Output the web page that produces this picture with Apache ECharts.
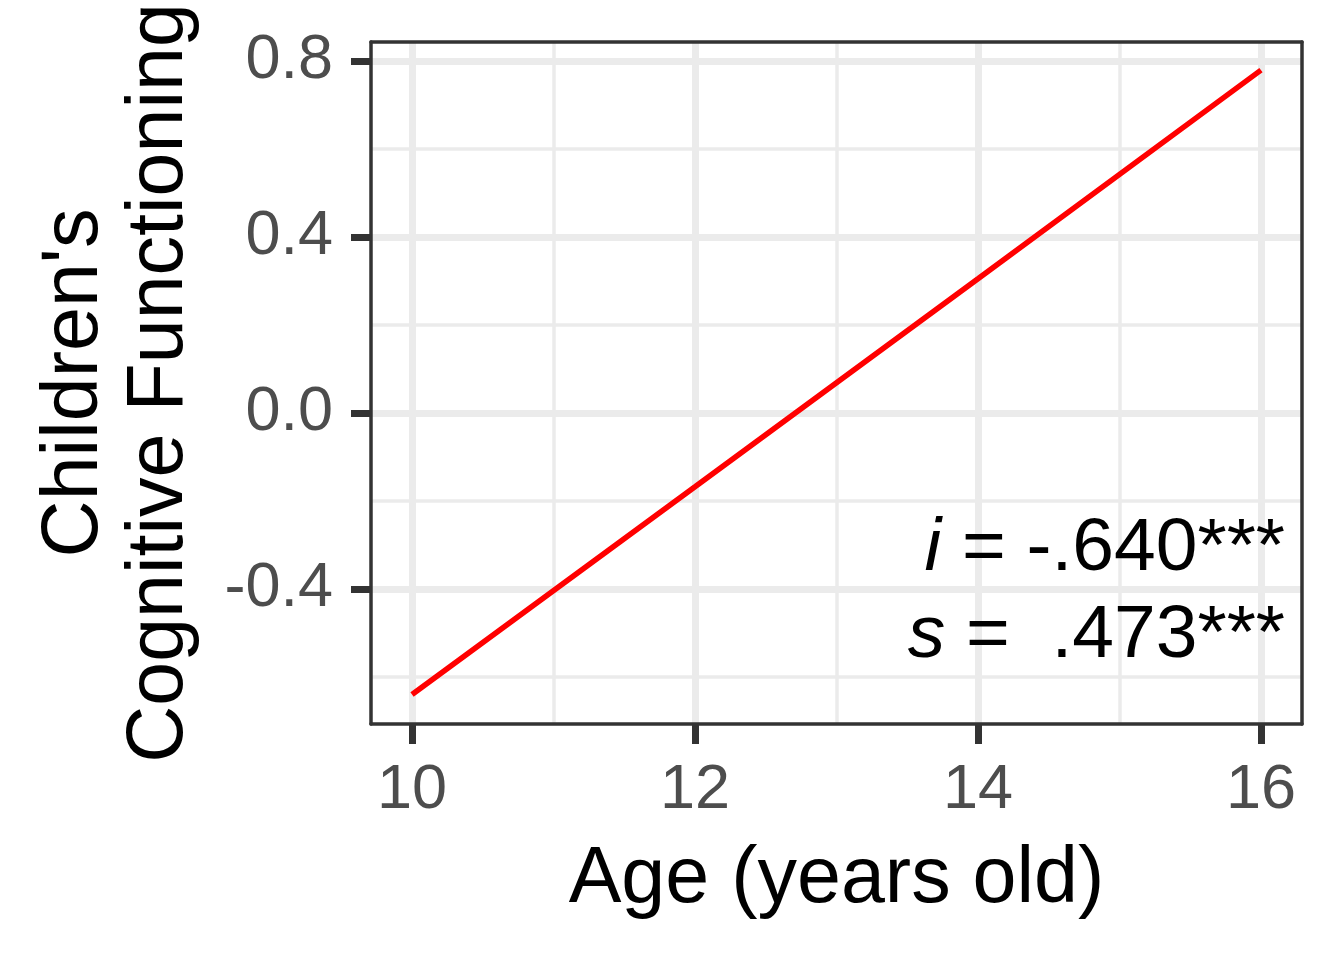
<!DOCTYPE html>
<html>
<head>
<meta charset="utf-8">
<script src="https://cdn.jsdelivr.net/npm/echarts@6/dist/echarts.min.js"></script>
<style>html,body{margin:0;padding:0;background:#fff;}#chart{width:1344px;height:960px;}</style>
</head>
<body>
<div id="chart"></div>
<script>
// ---- data ----
var ages = [10, 12, 14, 16];
var cognition = [-0.640, -0.168, 0.305, 0.779];
var xTicks = [10, 12, 14, 16];
var xMinor = [11, 13, 15];
var yTicks = [-0.4, 0.0, 0.4, 0.8];
var yMinor = [-0.6, -0.2, 0.2, 0.6];
var annotX = [16.17, 16.17];
var annotY = [-0.31, -0.507];
var annotText = ['{it|i} = -.640***', '{it|s} =  .473***'];

var FONT = 'Liberation Sans, Arial, Helvetica, sans-serif';
var chart = echarts.init(document.getElementById('chart'));

function gridLines(axisKey, vals) {
  return vals.map(function (v) { var o = {}; o[axisKey] = v; return o; });
}

var option = {
  animation: false,
  backgroundColor: '#ffffff',
  grid: { left: 371, right: 42, top: 42, bottom: 236, show: false },
  xAxis: [{
    type: 'value', min: 9.71, max: 16.29, position: 'bottom', z: 10,
    name: 'Age (years old)', nameLocation: 'middle', nameGap: 117,
    nameTextStyle: { fontFamily: FONT, fontSize: 79, color: '#000' },
    axisLine: { show: true, onZero: false, lineStyle: { color: '#333333', width: 3.5 } },
    axisTick: { show: true, customValues: xTicks, length: 20, lineStyle: { color: '#333333', width: 7 } },
    axisLabel: { show: true, customValues: xTicks, margin: 35, fontFamily: FONT, fontSize: 63, color: '#4D4D4D' },
    splitLine: { show: false }
  }, {
    type: 'value', min: 9.71, max: 16.29, position: 'top', z: 10,
    axisLine: { show: true, onZero: false, lineStyle: { color: '#333333', width: 3.5 } },
    axisTick: { show: false }, axisLabel: { show: false }, splitLine: { show: false }
  }],
  yAxis: [{
    type: 'value', min: -0.707, max: 0.843, position: 'left', z: 10,
    name: "Children's\nCognitive Functioning", nameLocation: 'middle', nameRotate: 90, nameGap: 168,
    nameTextStyle: { fontFamily: FONT, fontSize: 79, color: '#000', lineHeight: 85 },
    axisLine: { show: true, onZero: false, lineStyle: { color: '#333333', width: 3.5 } },
    axisTick: { show: true, customValues: yTicks, length: 20, lineStyle: { color: '#333333', width: 7 } },
    axisLabel: { show: true, customValues: yTicks, margin: 38, fontFamily: FONT, fontSize: 63, color: '#4D4D4D',
      formatter: function (v) { return (Math.abs(v) < 1e-9 ? 0 : v).toFixed(1); } },
    splitLine: { show: false }
  }, {
    type: 'value', min: -0.707, max: 0.843, position: 'right', z: 10,
    axisLine: { show: true, onZero: false, lineStyle: { color: '#333333', width: 3.5 } },
    axisTick: { show: false }, axisLabel: { show: false }, splitLine: { show: false }
  }],
  series: [{
    type: 'line', z: 1, silent: true, showSymbol: false, data: [[ages[0], cognition[0]]],
    lineStyle: { opacity: 0 },
    markLine: { z: 1, silent: true, symbol: 'none', label: { show: false }, animation: false,
      lineStyle: { color: '#EBEBEB', width: 3.5, type: 'solid' },
      emphasis: { disabled: true },
      data: gridLines('xAxis', xMinor).concat(gridLines('yAxis', yMinor)) }
  }, {
    type: 'line', z: 1, silent: true, showSymbol: false, data: [[ages[0], cognition[0]]],
    lineStyle: { opacity: 0 },
    markLine: { z: 1, silent: true, symbol: 'none', label: { show: false }, animation: false,
      lineStyle: { color: '#EBEBEB', width: 7, type: 'solid' },
      emphasis: { disabled: true },
      data: gridLines('xAxis', xTicks).concat(gridLines('yAxis', yTicks)) }
  }, {
    type: 'line', z: 3, showSymbol: false, symbol: 'none',
    data: ages.map(function (a, i) { return [a, cognition[i]]; }),
    lineStyle: { color: '#FF0000', width: 5.5 }
  }, {
    type: 'scatter', z: 4, symbolSize: 0, silent: true,
    itemStyle: { opacity: 1 },
    data: annotX.map(function (x, i) { return [x, annotY[i]]; }),
    label: {
      show: true, position: 'left', distance: 0, align: 'right', verticalAlign: 'middle',
      fontFamily: FONT, fontSize: 75, color: '#000000', opacity: 1, textBorderWidth: 0,
      formatter: function (p) { return annotText[p.dataIndex]; },
      rich: { it: { fontFamily: FONT, fontSize: 75, fontStyle: 'italic', color: '#000000' } }
    }
  }]
};
chart.setOption(option);
</script>
</body>
</html>
